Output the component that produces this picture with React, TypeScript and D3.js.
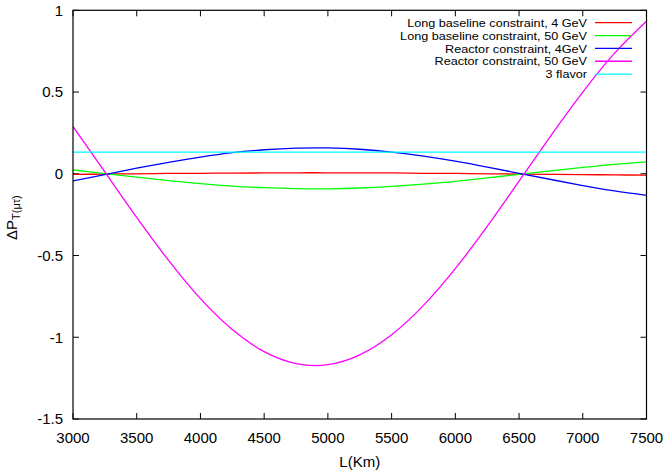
import React from "react";
import * as d3 from "d3";

const L = [3000, 3250, 3500, 3750, 4000, 4250, 4500, 4750, 5000, 5250, 5500, 5750, 6000, 6250, 6500, 6750, 7000, 7250, 7500];
const lb4 = [-0.004, -0.002, 0.0, 0.002, 0.003, 0.004, 0.005, 0.006, 0.006, 0.005, 0.005, 0.003, 0.002, 0.0, -0.002, -0.004, -0.005, -0.007, -0.008];
const lb50 = [0.023, 0.001, -0.021, -0.042, -0.06, -0.075, -0.085, -0.091, -0.092, -0.087, -0.077, -0.063, -0.046, -0.025, -0.004, 0.018, 0.039, 0.058, 0.073];
const re4 = [-0.043, -0.005, 0.034, 0.07, 0.102, 0.129, 0.147, 0.157, 0.158, 0.15, 0.133, 0.108, 0.077, 0.041, 0.003, -0.035, -0.072, -0.105, -0.132];
const re50 = [0.289, 0.011, -0.267, -0.53, -0.764, -0.953, -1.088, -1.161, -1.168, -1.108, -0.985, -0.805, -0.58, -0.322, -0.045, 0.234, 0.5, 0.738, 0.933];
const flavorL = [3000, 7500];
const flavor3 = [0.133, 0.133];

const seriesNames = [
  "Long baseline constraint, 4 GeV",
  "Long baseline constraint, 50 GeV",
  "Reactor constraint, 4GeV",
  "Reactor constraint, 50 GeV",
  "3 flavor",
];
const seriesColors = ["#ff0000", "#00ff00", "#0000ff", "#ff00ff", "#00ffff"];

const xTicks = [3000, 3500, 4000, 4500, 5000, 5500, 6000, 6500, 7000, 7500];
const yTicks = [1, 0.5, 0, -0.5, -1, -1.5];

const W = 667, H = 474;
const left = 73, right = 646.5, top = 10.3, bottom = 419;
const font = "'Liberation Sans', Arial, Helvetica, sans-serif";

export default function App() {
  const x = d3.scaleLinear().domain([3000, 7500]).range([left, right]);
  const y = d3.scaleLinear().domain([-1.5, 1]).range([bottom, top]);

  const series = [
    { xs: L, ys: lb4 },
    { xs: L, ys: lb50 },
    { xs: L, ys: re4 },
    { xs: L, ys: re50 },
    { xs: flavorL, ys: flavor3 },
  ];

  const line = d3
    .line<[number, number]>()
    .x((d) => x(d[0]))
    .y((d) => y(d[1]))
    .curve(d3.curveNatural);

  const tickLen = 6;

  return (
    <svg width={W} height={H} style={{ position: "absolute", left: 0, top: 0, background: "#fff" }} fontFamily={font}>
      <defs>
        <clipPath id="plotclip">
          <rect x={left} y={top} width={right - left} height={bottom - top} />
        </clipPath>
      </defs>
      <rect x={0} y={0} width={W} height={H} fill="#fff" />

      {/* ticks */}
      {xTicks.map((t) => (
        <g key={"xt" + t}>
          <line x1={x(t)} x2={x(t)} y1={bottom} y2={bottom - tickLen} stroke="#000" strokeWidth={1} />
          <line x1={x(t)} x2={x(t)} y1={top} y2={top + tickLen} stroke="#000" strokeWidth={1} />
          <text x={x(t)} y={443} fontSize={15} textAnchor="middle" fill="#000">
            {t}
          </text>
        </g>
      ))}
      {yTicks.map((t) => (
        <g key={"yt" + t}>
          <line x1={left} x2={left + tickLen} y1={y(t)} y2={y(t)} stroke="#000" strokeWidth={1} />
          <line x1={right} x2={right - tickLen} y1={y(t)} y2={y(t)} stroke="#000" strokeWidth={1} />
          <text x={63} y={y(t) + 5.3} fontSize={15} textAnchor="end" fill="#000">
            {t}
          </text>
        </g>
      ))}

      {/* curves */}
      <g clipPath="url(#plotclip)">
        {series.map((s, i) => (
          <path
            key={"s" + i}
            d={line(s.xs.map((v, j) => [v, s.ys[j]] as [number, number])) || ""}
            fill="none"
            stroke={seriesColors[i]}
            strokeWidth={1.3}
          />
        ))}
      </g>

      {/* legend */}
      {seriesNames.map((n, i) => {
        const cy = 22.7 + i * 12.85;
        return (
          <g key={"lg" + i}>
            <text
              transform={`translate(587, ${cy + 4.1}) scale(1.1, 1)`}
              x={0}
              y={0}
              fontSize={11.5}
              textAnchor="end"
              fill="#000"
            >
              {n}
            </text>
            <line x1={595} x2={632} y1={cy} y2={cy} stroke={seriesColors[i]} strokeWidth={1.3} />
          </g>
        );
      })}

      {/* frame */}
      <rect x={left} y={top} width={right - left} height={bottom - top} fill="none" stroke="#000" strokeWidth={1.2} />

      {/* axis labels */}
      <text x={(left + right) / 2} y={467} fontSize={15} textAnchor="middle" fill="#000">
        L(Km)
      </text>
      <text transform={`translate(17, 240) rotate(-90)`} fontSize={15} textAnchor="start" fill="#000">
        ΔP
        <tspan fontSize={11} dy={3}>T(μτ)</tspan>
      </text>
    </svg>
  );
}
